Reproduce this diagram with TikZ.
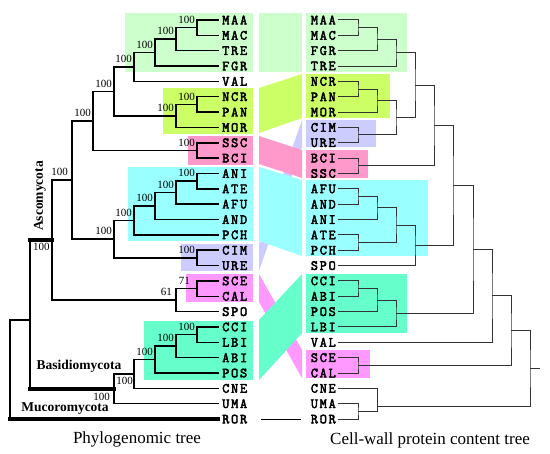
\documentclass[tikz,border=0pt]{standalone}
\usepackage{fontspec}
\setmainfont{Liberation Serif}
\newfontfamily\tipfont[LetterSpace=12,FakeBold=3]{Latin Modern Mono}
\definecolor{paleGreen}{RGB}{204,255,204}
\definecolor{limeGreen}{RGB}{204,255,102}
\definecolor{rosePink}{RGB}{255,153,204}
\definecolor{skyCyan}{RGB}{153,255,255}
\definecolor{lilac}{RGB}{204,204,255}
\definecolor{orchid}{RGB}{255,153,255}
\definecolor{mint}{RGB}{102,255,204}
\begin{document}
\begin{tikzpicture}[x=1pt,y=-1pt,
    tipL/.style={anchor=west,inner xsep=4pt,inner ysep=0pt,font={\tipfont\fontsize{14pt}{14pt}\selectfont}},
    tipR/.style={anchor=east,inner xsep=2pt,inner ysep=0pt,font={\tipfont\fontsize{14pt}{14pt}\selectfont}},
    boot/.style={anchor=south east,inner sep=1pt,xshift=-1pt,yshift=3pt,font={\fontsize{11pt}{11pt}\selectfont}},
    bootb/.style={anchor=north east,inner sep=1pt,yshift=-2pt,font={\fontsize{11pt}{11pt}\selectfont}},
    br/.style={line width=1.5pt,line cap=rect},
    fat/.style={line width=3.5pt,line cap=rect},
    rbr/.style={line width=1pt,draw=black!80},
    clade/.style={font={\bfseries\fontsize{13.5pt}{13.5pt}\selectfont}},
    caption/.style={font={\fontsize{17pt}{17pt}\selectfont}}]
  \useasboundingbox (0,0) rectangle (550,454);

  % boxes, left
  \fill[paleGreen] (125,13) rectangle (253,72);
  \fill[limeGreen] (163,88) rectangle (253,134);
  \fill[rosePink] (188,136) rectangle (253,165);
  \fill[skyCyan] (128,167) rectangle (253,241);
  \fill[lilac] (181,244) rectangle (253,271);
  \fill[orchid] (186,274) rectangle (253,302);
  \fill[mint] (144,321) rectangle (253,380);
  % boxes, right
  \fill[paleGreen] (306,13) rectangle (407,72);
  \fill[limeGreen] (306,74) rectangle (390,118);
  \fill[lilac] (306,120) rectangle (376,147);
  \fill[rosePink] (306,150) rectangle (368,178);
  \fill[skyCyan] (306,180) rectangle (428,256);
  \fill[mint] (306,274) rectangle (407,333);
  \fill[orchid] (306,350) rectangle (370,378);
  % ribbons
  \fill[lilac] (259,244) -- (302,120) -- (302,147) -- (259,271) -- cycle;
  \fill[orchid] (259,274) -- (302,350) -- (302,378) -- (259,302) -- cycle;
  \fill[paleGreen] (259,13) rectangle (302,72);
  \fill[limeGreen] (259,88) -- (302,74) -- (302,118) -- (259,133) -- cycle;
  \fill[rosePink] (259,136) -- (302,150) -- (302,178) -- (259,164) -- cycle;
  \fill[skyCyan] (259,167) -- (302,180) -- (302,256) -- (259,241) -- cycle;
  \fill[mint] (259,320) -- (302,274) -- (302,333) -- (259,380) -- cycle;

  % phylogenomic tree
  \node[tipL] (lMAA) at (218,20) {MAA};
  \node[tipL] (lMAC) at (218,35.35) {MAC};
  \node[tipL] (lTRE) at (218,50.7) {TRE};
  \node[tipL] (lFGR) at (218,66.05) {FGR};
  \node[tipL] (lVAL) at (218,81.4) {VAL};
  \node[tipL] (lNCR) at (218,96.75) {NCR};
  \node[tipL] (lPAN) at (218,112.1) {PAN};
  \node[tipL] (lMOR) at (218,127.45) {MOR};
  \node[tipL] (lSSC) at (218,142.8) {SSC};
  \node[tipL] (lBCI) at (218,158.15) {BCI};
  \node[tipL] (lANI) at (218,173.5) {ANI};
  \node[tipL] (lATE) at (218,188.85) {ATE};
  \node[tipL] (lAFU) at (218,204.2) {AFU};
  \node[tipL] (lAND) at (218,219.55) {AND};
  \node[tipL] (lPCH) at (218,234.9) {PCH};
  \node[tipL] (lCIM) at (218,250.25) {CIM};
  \node[tipL] (lURE) at (218,265.6) {URE};
  \node[tipL] (lSCE) at (218,280.95) {SCE};
  \node[tipL] (lCAL) at (218,296.3) {CAL};
  \node[tipL] (lSPO) at (218,311.65) {SPO};
  \node[tipL] (lCCI) at (218,327) {CCI};
  \node[tipL] (lLBI) at (218,342.35) {LBI};
  \node[tipL] (lABI) at (218,357.7) {ABI};
  \node[tipL] (lPOS) at (218,373.05) {POS};
  \node[tipL] (lCNE) at (218,388.4) {CNE};
  \node[tipL] (lUMA) at (218,403.75) {UMA};
  \node[tipL] (lROR) at (218,419.1) {ROR};

  \coordinate (a1) at (197,27.7);
  \coordinate (a2) at (176,39.2);
  \coordinate (a3) at (155,52.6);
  \coordinate (a4) at (134,67.0);
  \coordinate (a5) at (197,104.4);
  \coordinate (a6) at (176,115.9);
  \coordinate (a7) at (114,91.5);
  \coordinate (a8) at (197,150.5);
  \coordinate (a9) at (93,121.0);
  \coordinate (a10) at (197,181.2);
  \coordinate (a11) at (176,192.7);
  \coordinate (a12) at (155,206.1);
  \coordinate (a13) at (134,220.5);
  \coordinate (a14) at (197,257.9);
  \coordinate (a15) at (114,239.2);
  \coordinate (a16) at (72,180.1);
  \coordinate (a17) at (197,288.6);
  \coordinate (a18) at (176,300.1);
  \coordinate (a19) at (52,240.1);
  \coordinate (a20) at (197,334.7);
  \coordinate (a21) at (176,346.2);
  \coordinate (a22) at (155,359.6);
  \coordinate (a23) at (134,374.0);
  \coordinate (a24) at (114,388.9);
  \coordinate (a25) at (30,320);
  \coordinate (a26) at (10,320);

  \draw[br] (lMAA.west) -| (a1) |- (lMAC.west);
  \draw[br] (a1) -| (a2) |- (lTRE.west);
  \draw[br] (a2) -| (a3) |- (lFGR.west);
  \draw[br] (a3) -| (a4) |- (lVAL.west);
  \draw[br] (lNCR.west) -| (a5) |- (lPAN.west);
  \draw[br] (a5) -| (a6) |- (lMOR.west);
  \draw[br] (a4) -| (a7) |- (a6);
  \draw[br] (lSSC.west) -| (a8) |- (lBCI.west);
  \draw[br] (a7) -| (a9) |- (a8);
  \draw[br] (lANI.west) -| (a10) |- (lATE.west);
  \draw[br] (a10) -| (a11) |- (lAFU.west);
  \draw[br] (a11) -| (a12) |- (lAND.west);
  \draw[br] (a12) -| (a13) |- (lPCH.west);
  \draw[br] (lCIM.west) -| (a14) |- (lURE.west);
  \draw[br] (a13) -| (a15) |- (a14);
  \draw[br] (a9) -| (a16) |- (a15);
  \draw[br] (lSCE.west) -| (a17) |- (lCAL.west);
  \draw[br] (a17) -| (a18) |- (lSPO.west);
  \draw[br] (a16) -| (a19) |- (a18);
  \draw[br] (lCCI.west) -| (a20) |- (lLBI.west);
  \draw[br] (a20) -| (a21) |- (lABI.west);
  \draw[br] (a21) -| (a22) |- (lPOS.west);
  \draw[br] (a22) -| (a23) |- (lCNE.west);
  \draw[br] (a23) -| (a24) |- (lUMA.west);
  \draw[fat] (a19) -- (a25 |- a19);
  \draw[br] (a25 |- a19) -- (a25 |- a24);
  \draw[fat] (a25 |- a24) -- (a24);
  \draw[br] (a25) -- (a26) -- (a26 |- lROR.west);
  \draw[fat] (a26 |- lROR.west) -- (lROR.west);

  \node[boot] (s1) at (a1) {100};
  \node[boot] (s2) at (a2) {100};
  \node[boot] (s3) at (a3) {100};
  \node[boot] (s4) at (a4) {100};
  \node[boot] (s5) at (a5) {100};
  \node[boot] (s6) at (a6) {100};
  \node[boot] (s7) at (a7) {100};
  \node[boot] (s8) at (a8) {100};
  \node[boot] (s9) at (a9) {100};
  \node[boot] (s10) at (a10) {100};
  \node[boot] (s11) at (a11) {100};
  \node[boot] (s12) at (a12) {100};
  \node[boot] (s13) at (a13) {100};
  \node[boot] (s14) at (a14) {100};
  \node[boot] (s15) at (a15) {100};
  \node[boot,xshift=-2pt] (s16) at (a16) {100};
  \node[boot,xshift=-5pt] (s17) at (a17) {71};
  \node[boot,xshift=-2pt] (s18) at (a18) {61};
  \node[bootb,anchor=north west,xshift=2pt] (s19) at (a25 |- a19) {100};
  \node[boot] (s20) at (a20) {100};
  \node[boot] (s21) at (a21) {100};
  \node[boot] (s22) at (a22) {100};
  \node[bootb] (s23) at (a23) {100};
  \node[bootb,xshift=-3pt,yshift=-1pt] (s24) at (a24) {100};

  \node[clade,rotate=90] (asco) at (40,196) {Ascomycota};
  \node[clade] (basidio) at (79,366.5) {Basidiomycota};
  \node[clade] (mucoro) at (65,409) {Mucoromycota};

  % content tree
  \node[tipR] (rMAA) at (338,20) {MAA};
  \node[tipR] (rMAC) at (338,35.35) {MAC};
  \node[tipR] (rFGR) at (338,50.7) {FGR};
  \node[tipR] (rTRE) at (338,66.05) {TRE};
  \node[tipR] (rNCR) at (338,81.4) {NCR};
  \node[tipR] (rPAN) at (338,96.75) {PAN};
  \node[tipR] (rMOR) at (338,112.1) {MOR};
  \node[tipR] (rCIM) at (338,127.45) {CIM};
  \node[tipR] (rURE) at (338,142.8) {URE};
  \node[tipR] (rBCI) at (338,158.15) {BCI};
  \node[tipR] (rSSC) at (338,173.5) {SSC};
  \node[tipR] (rAFU) at (338,188.85) {AFU};
  \node[tipR] (rAND) at (338,204.2) {AND};
  \node[tipR] (rANI) at (338,219.55) {ANI};
  \node[tipR] (rATE) at (338,234.9) {ATE};
  \node[tipR] (rPCH) at (338,250.25) {PCH};
  \node[tipR] (rSPO) at (338,265.6) {SPO};
  \node[tipR] (rCCI) at (338,280.95) {CCI};
  \node[tipR] (rABI) at (338,296.3) {ABI};
  \node[tipR] (rPOS) at (338,311.65) {POS};
  \node[tipR] (rLBI) at (338,327) {LBI};
  \node[tipR] (rVAL) at (338,342.35) {VAL};
  \node[tipR] (rSCE) at (338,357.7) {SCE};
  \node[tipR] (rCAL) at (338,373.05) {CAL};
  \node[tipR] (rCNE) at (338,388.4) {CNE};
  \node[tipR] (rUMA) at (338,403.75) {UMA};
  \node[tipR] (rROR) at (338,419.1) {ROR};

  \coordinate (b1) at (358,27.7);
  \coordinate (b2) at (377,39.2);
  \coordinate (b3) at (396,52.6);
  \coordinate (b4) at (358,89.1);
  \coordinate (b5) at (377,100.6);
  \coordinate (b6) at (358,134.8);
  \coordinate (b7) at (396,117.7);
  \coordinate (b8) at (415,85.2);
  \coordinate (b9) at (358,165.8);
  \coordinate (b10) at (434,125.5);
  \coordinate (b11) at (358,196.5);
  \coordinate (b12) at (377,208.0);
  \coordinate (b13) at (358,242.6);
  \coordinate (b14) at (396,225.3);
  \coordinate (b15) at (415,245.5);
  \coordinate (b16) at (453,185.5);
  \coordinate (b17) at (358,288.6);
  \coordinate (b18) at (377,300.1);
  \coordinate (b19) at (396,313.6);
  \coordinate (b20) at (473,249.5);
  \coordinate (b21) at (492,295.9);
  \coordinate (b22) at (358,365.4);
  \coordinate (b23) at (511,330.7);
  \coordinate (b24) at (358,411.4);
  \coordinate (b25) at (377,406.7);
  \coordinate (b26) at (530,368.7);
  \coordinate (b27) at (540,368.7);

  \draw[rbr] (rMAA.east) -| (b1) |- (rMAC.east);
  \draw[rbr] (b1) -| (b2) |- (rFGR.east);
  \draw[rbr] (b2) -| (b3) |- (rTRE.east);
  \draw[rbr] (rNCR.east) -| (b4) |- (rPAN.east);
  \draw[rbr] (b4) -| (b5) |- (rMOR.east);
  \draw[rbr] (rCIM.east) -| (b6) |- (rURE.east);
  \draw[rbr] (b5) -| (b7) |- (b6);
  \draw[rbr] (b3) -| (b8) |- (b7);
  \draw[rbr] (rBCI.east) -| (b9) |- (rSSC.east);
  \draw[rbr] (b8) -| (b10) |- (b9);
  \draw[rbr] (rAFU.east) -| (b11) |- (rAND.east);
  \draw[rbr] (b11) -| (b12) |- (rANI.east);
  \draw[rbr] (rATE.east) -| (b13) |- (rPCH.east);
  \draw[rbr] (b12) -| (b14) |- (b13);
  \draw[rbr] (b14) -| (b15) |- (rSPO.east);
  \draw[rbr] (b10) -| (b16) |- (b15);
  \draw[rbr] (rCCI.east) -| (b17) |- (rABI.east);
  \draw[rbr] (b17) -| (b18) |- (rPOS.east);
  \draw[rbr] (b18) -| (b19) |- (rLBI.east);
  \draw[rbr] (b16) -| (b20) |- (b19);
  \draw[rbr] (b20) -| (b21) |- (rVAL.east);
  \draw[rbr] (rSCE.east) -| (b22) |- (rCAL.east);
  \draw[rbr] (b21) -| (b23) |- (b22);
  \draw[rbr] (rUMA.east) -| (b24) |- (rROR.east);
  \draw[rbr] (rCNE.east) -| (b25 |- b24) -- (b24);
  \draw[rbr] (b23) -| (b26) |- (b25);
  \draw[rbr] (b26) -- (b27);

  \draw[line width=1pt] ([xshift=10pt]lROR.east) -- ([xshift=-8pt]rROR.west);

  \node[caption] (capL) at (137,439) {Phylogenomic tree};
  \node[caption] (capR) at (430,440) {Cell-wall protein content tree};
\end{tikzpicture}
\end{document}
